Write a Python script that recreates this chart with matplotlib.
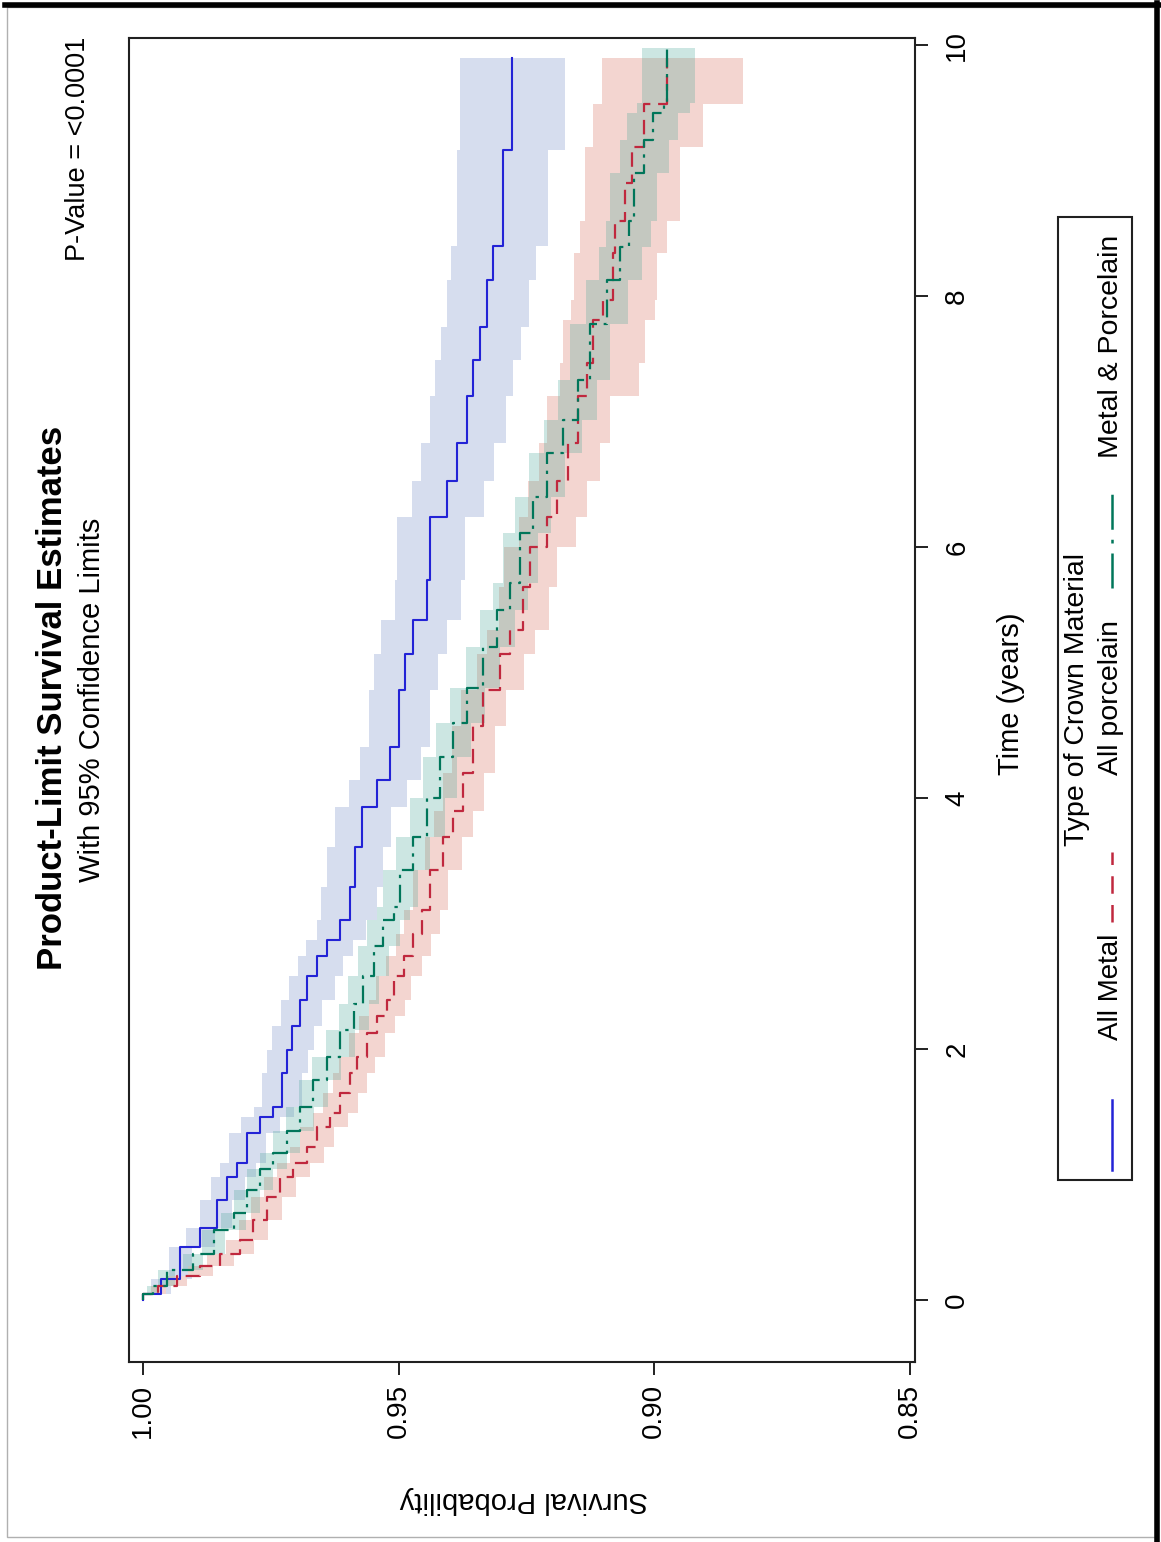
import matplotlib
matplotlib.use('Agg')
import matplotlib.pyplot as plt
from matplotlib.lines import Line2D
from matplotlib.patches import Rectangle

plt.rcParams['font.family'] = ['Liberation Sans', 'DejaVu Sans']

# ---- data (time in years, survival probability, 95% limits) ----
t_metal = [0, 0.05, 0.17, 0.42, 0.57, 0.80, 0.98, 1.09, 1.33, 1.46, 1.54, 1.81, 1.99, 2.18, 2.39,
           2.58, 2.74, 2.87, 3.03, 3.29, 3.61, 3.93, 4.14, 4.41, 4.86, 5.15, 5.42, 5.74, 6.24, 6.53,
           6.83, 7.20, 7.49, 7.75, 8.13, 8.40, 9.16, 9.90]
s_metal = [1.0, 0.9965, 0.9928, 0.9888, 0.9856, 0.9836, 0.9817, 0.9797, 0.9771, 0.9745, 0.9729,
           0.9719, 0.9709, 0.9693, 0.9680, 0.9660, 0.9641, 0.9614, 0.9595, 0.9585, 0.9571, 0.9542,
           0.9517, 0.9500, 0.9487, 0.9471, 0.9444, 0.9438, 0.9405, 0.9386, 0.9366, 0.9354, 0.9340,
           0.9327, 0.9315, 0.9296, 0.9278, 0.9278]
hi_metal = [1.0, 0.9985, 0.9950, 0.9915, 0.9888, 0.9868, 0.9850, 0.9832, 0.9808, 0.9783, 0.9767,
            0.9758, 0.9748, 0.9730, 0.9715, 0.9697, 0.9682, 0.9660, 0.9652, 0.9640, 0.9625, 0.9598,
            0.9575, 0.9559, 0.9548, 0.9534, 0.9508, 0.9504, 0.9474, 0.9457, 0.9439, 0.9429, 0.9417,
            0.9406, 0.9397, 0.9385, 0.9380, 0.9380]
lo_metal = [1.0, 0.9945, 0.9905, 0.9860, 0.9826, 0.9800, 0.9780, 0.9760, 0.9732, 0.9705, 0.9689,
            0.9677, 0.9666, 0.9649, 0.9625, 0.9608, 0.9590, 0.9563, 0.9543, 0.9531, 0.9515, 0.9484,
            0.9457, 0.9439, 0.9424, 0.9406, 0.9378, 0.9370, 0.9334, 0.9313, 0.9291, 0.9277, 0.9261,
            0.9246, 0.9231, 0.9208, 0.9175, 0.9175]

t_porc = [0, 0.05, 0.11, 0.19, 0.27, 0.37, 0.48, 0.64, 0.82, 0.98, 1.09, 1.22, 1.38, 1.49, 1.65,
          1.81, 1.94, 2.13, 2.26, 2.39, 2.58, 2.74, 2.92, 3.11, 3.43, 3.69, 3.90, 4.20, 4.57, 4.86,
          5.15, 5.34, 5.68, 6.00, 6.24, 6.53, 6.83, 7.20, 7.47, 7.81, 7.97, 8.34, 8.60, 8.90, 9.19,
          9.53, 9.90]
s_porc = [1.0, 0.997, 0.9934, 0.9888, 0.9849, 0.9810, 0.9784, 0.9758, 0.9732, 0.9706, 0.9680,
          0.9660, 0.9634, 0.9614, 0.9595, 0.9582, 0.9562, 0.9543, 0.9523, 0.9510, 0.9490, 0.9471,
          0.9455, 0.9438, 0.9413, 0.9393, 0.9374, 0.9354, 0.9335, 0.9301, 0.9282, 0.9256, 0.9243,
          0.9210, 0.9190, 0.9168, 0.9149, 0.9131, 0.9120, 0.9100, 0.9080, 0.9076, 0.9057, 0.9043,
          0.9020, 0.8975, 0.8975]
hi_porc = [1.0, 0.9985, 0.9955, 0.9912, 0.9875, 0.9838, 0.9813, 0.9788, 0.9763, 0.9738, 0.9713,
           0.9693, 0.9668, 0.9648, 0.9629, 0.9617, 0.9597, 0.9578, 0.9558, 0.9545, 0.9525, 0.9506,
           0.9490, 0.9472, 0.9449, 0.9431, 0.9413, 0.9395, 0.9378, 0.9346, 0.9328, 0.9304, 0.9294,
           0.9265, 0.9247, 0.9226, 0.9209, 0.9185, 0.9178, 0.9162, 0.9158, 0.9145, 0.9135, 0.9135,
           0.9120, 0.9102, 0.9102]
lo_porc = [1.0, 0.9955, 0.9913, 0.9864, 0.9823, 0.9782, 0.9755, 0.9728, 0.9701, 0.9674, 0.9647,
           0.9627, 0.9600, 0.9580, 0.9561, 0.9547, 0.9527, 0.9508, 0.9488, 0.9475, 0.9455, 0.9436,
           0.9420, 0.9403, 0.9377, 0.9355, 0.9334, 0.9312, 0.9290, 0.9254, 0.9234, 0.9206, 0.9190,
           0.9153, 0.9131, 0.9107, 0.9086, 0.9030, 0.9018, 0.8998, 0.8994, 0.8975, 0.8949, 0.8949,
           0.8904, 0.8826, 0.8826]

t_mp = [0, 0.05, 0.11, 0.24, 0.37, 0.56, 0.69, 0.88, 1.04, 1.17, 1.35, 1.54, 1.75, 1.94, 2.15,
        2.36, 2.58, 2.82, 3.03, 3.13, 3.43, 3.69, 4.00, 4.33, 4.60, 4.88, 5.20, 5.50, 5.71, 6.11,
        6.40, 6.75, 7.01, 7.33, 7.78, 8.13, 8.39, 8.60, 8.98, 9.24, 9.46, 9.54, 9.98]
s_mp = [1.0, 0.998, 0.9954, 0.9902, 0.9862, 0.9823, 0.9797, 0.9771, 0.9745, 0.9719, 0.9693,
        0.9667, 0.9641, 0.9614, 0.9588, 0.9569, 0.9549, 0.9530, 0.9510, 0.9497, 0.9472, 0.9444,
        0.9419, 0.9393, 0.9366, 0.9335, 0.9307, 0.9282, 0.9262, 0.9237, 0.9210, 0.9178, 0.9150,
        0.9125, 0.9092, 0.9067, 0.9050, 0.9040, 0.9020, 0.9003, 0.8982, 0.8975, 0.8975]
hi_mp = [1.0, 0.9992, 0.9970, 0.9922, 0.9884, 0.9847, 0.9822, 0.9797, 0.9772, 0.9746, 0.9720,
         0.9695, 0.9669, 0.9643, 0.9617, 0.9599, 0.9580, 0.9562, 0.9543, 0.9530, 0.9506, 0.9478,
         0.9453, 0.9427, 0.9400, 0.9369, 0.9341, 0.9316, 0.9296, 0.9272, 0.9246, 0.9215, 0.9188,
         0.9164, 0.9133, 0.9109, 0.9094, 0.9086, 0.9068, 0.9053, 0.9034, 0.9024, 0.9024]
lo_mp = [1.0, 0.9968, 0.9938, 0.9882, 0.9840, 0.9799, 0.9772, 0.9745, 0.9718, 0.9692, 0.9666,
         0.9639, 0.9613, 0.9585, 0.9559, 0.9539, 0.9518, 0.9498, 0.9477, 0.9463, 0.9438, 0.9410,
         0.9385, 0.9359, 0.9332, 0.9301, 0.9273, 0.9248, 0.9228, 0.9202, 0.9174, 0.9141, 0.9112,
         0.9086, 0.9051, 0.9024, 0.9006, 0.8994, 0.8972, 0.8953, 0.8930, 0.8920, 0.8920]

groups = ['All Metal', 'All porcelain', 'Metal & Porcelain']
time_ticks = [0, 2, 4, 6, 8, 10]
surv_ticks = [1.00, 0.95, 0.90, 0.85]
surv_labels = ['1.00', '0.95', '0.90', '0.85']

# ---- figure (the whole chart is turned a quarter turn) ----
W, H = 1161, 1542
fig = plt.figure(figsize=(W / 100, H / 100), dpi=100)


def fx(x):
    return x / W


def fy(y):
    return 1 - y / H


ax = fig.add_axes([fx(129), fy(1362), (915 - 129) / W, (1362 - 38) / H])

blue = '#2323d6'
red = '#c0283e'
green = '#00765a'
red_ls = (0, (6.5, 3.5))
green_ls = (0, (8, 3, 1.5, 3))

ax.fill_betweenx(t_metal, lo_metal, hi_metal, step='post', color='#d6ddee', lw=0, zorder=1)
ax.fill_betweenx(t_porc, lo_porc, hi_porc, step='post', color='#f3d5d0', lw=0, zorder=1)
ax.fill_betweenx(t_mp, lo_mp, hi_mp, step='post', color=(70 / 255, 165 / 255, 150 / 255),
                 alpha=0.27, lw=0, zorder=2)

ax.plot(s_metal, t_metal, drawstyle='steps-pre', color=blue, lw=1.5, zorder=3)
ax.plot(s_porc, t_porc, drawstyle='steps-pre', color=red, lw=1.6, ls=red_ls, zorder=3)
ax.plot(s_mp, t_mp, drawstyle='steps-pre', color=green, lw=1.6, ls=green_ls, zorder=4)

ax.set_xlim(1.00274, 0.84902)
ax.set_ylim(-0.494, 10.056)
ax.set_xticks(surv_ticks)
ax.set_xticklabels(surv_labels)
ax.set_yticks(time_ticks)
ax.yaxis.tick_right()
for sp in ax.spines.values():
    sp.set_linewidth(1.5)
    sp.set_color('#202020')
ax.tick_params(axis='both', direction='out', length=9, width=1.4, labelsize=20, color='#202020')
ax.tick_params(axis='x', labelrotation=90, pad=7)
ax.tick_params(axis='y', labelrotation=90, pad=12)
for lab in ax.get_yticklabels():
    lab.set_va('center')

# titles and axis labels
fig.text(fx(53), fy(698), 'Product-Limit Survival Estimates', rotation=90, fontsize=25,
         fontweight='bold', ha='center', va='center')
fig.text(fx(92), fy(700), 'With 95% Confidence Limits', rotation=90, fontsize=21,
         ha='center', va='center')
fig.text(fx(78), fy(37), 'P-Value = <0.0001', rotation=90, fontsize=19.5, ha='center', va='top')
fig.text(fx(524), fy(1500), 'Survival Probability', rotation=180, fontsize=21,
         ha='center', va='center')
fig.text(fx(1011), fy(694), 'Time (years)', rotation=90, fontsize=21, ha='center', va='center')

# legend drawn by hand in its turned position
fig.add_artist(Rectangle((fx(1058), fy(1180)), (1132 - 1058) / W, (1180 - 217) / H,
                         transform=fig.transFigure, fill=False, ec='#202020', lw=1.5))
fig.text(fx(1077), fy(700), 'Type of Crown Material', rotation=90, fontsize=20.5,
         ha='center', va='center')
leg_x = fx(1112)
fig.add_artist(Line2D([leg_x, leg_x], [fy(1170), fy(1100)], transform=fig.transFigure,
                      color=blue, lw=1.8))
fig.text(fx(1111), fy(987), groups[0], rotation=90, fontsize=20, ha='center', va='center')
fig.add_artist(Line2D([leg_x, leg_x], [fy(922), fy(852)], transform=fig.transFigure,
                      color=red, lw=1.8, ls=(0, (7, 4.5))))
fig.text(fx(1111), fy(698), groups[1], rotation=90, fontsize=20.5, ha='center', va='center')
fig.add_artist(Line2D([leg_x, leg_x], [fy(588), fy(485)], transform=fig.transFigure,
                      color=green, lw=1.8, ls=(0, (14, 4, 1.5, 4))))
fig.text(fx(1111), fy(346), groups[2], rotation=90, fontsize=20.5, ha='center', va='center')

# outer frame
fig.add_artist(Rectangle((fx(7), fy(1537)), (1157 - 7) / W, (1537 - 7) / H,
                         transform=fig.transFigure, fill=False, ec='#b0b0b0', lw=1))
fig.add_artist(Line2D([fx(5), fx(1161)], [fy(5), fy(5)], transform=fig.transFigure,
                      color='black', lw=4))
fig.add_artist(Line2D([fx(1157), fx(1157)], [fy(3), fy(1540)], transform=fig.transFigure,
                      color='black', lw=4))

fig.savefig('out.png', dpi=100)
